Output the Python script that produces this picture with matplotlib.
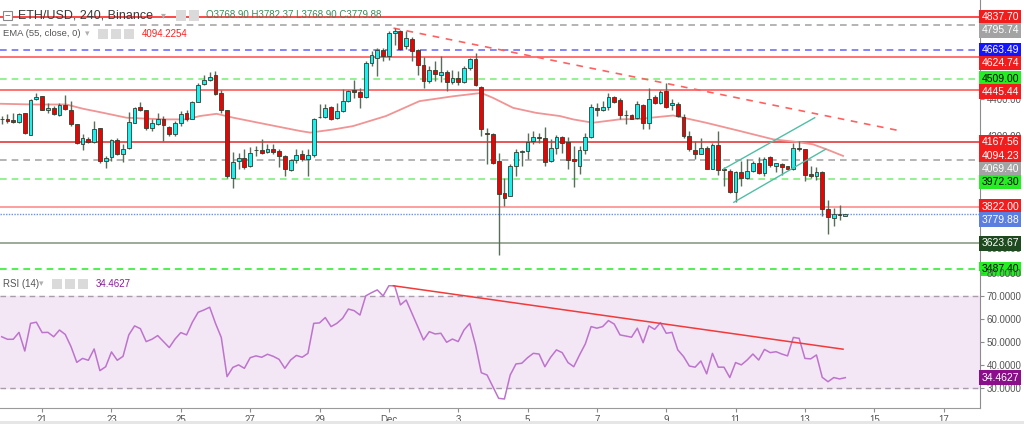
import numpy as np
import pandas as pd
import matplotlib
matplotlib.use("Agg")
import matplotlib.pyplot as plt
from matplotlib.patches import Rectangle

plt.rcParams['font.family'] = ['Liberation Sans', 'DejaVu Sans']

# ETH/USD 4h candles, Binance, from 2021-11-19 20:00
start = '2021-11-19 20:00'
opens = [4292, 4293, 4285, 4277, 4322, 4206, 4400, 4415, 4342, 4349,
         4313, 4366, 4343, 4263, 4156, 4187, 4169, 4242, 4064, 4090,
         4178, 4106, 4135, 4272, 4354, 4338, 4245, 4267, 4293, 4249,
         4210, 4272, 4322, 4293, 4384, 4482, 4500, 4527, 4432, 4338,
         3978, 4069, 4082, 4041, 4124, 4124, 4113, 4131, 4121, 4094,
         4019, 4071, 4103, 4076, 4098, 4302, 4304, 4356, 4299, 4334,
         4388, 4447, 4436, 4411, 4593, 4619, 4664, 4632, 4756, 4765,
         4682, 4722, 4660, 4584, 4495, 4553, 4530, 4543, 4489, 4512,
         4491, 4566, 4614, 4464, 4219, 4210, 4064, 3895, 3880, 4041,
         4117, 4121, 4172, 4197, 4192, 4067, 4137, 4197, 4169, 4076,
         4041, 4126, 4195, 4352, 4343, 4356, 4411, 4393, 4313, 4311,
         4299, 4366, 4272, 4409, 4379, 4441, 4365, 4375, 4302, 4201,
         4124, 4106, 4138, 4026, 4151, 4023, 4014, 3898, 4008, 3973,
         4014, 4058, 4001, 4089, 4041, 4053, 4039, 4023, 4138, 4130,
         3996, 3984, 4005, 3809, 3761, 3782, 3768.90]
highs = [4308, 4317, 4326, 4326, 4326, 4397, 4432, 4418, 4379, 4361,
         4379, 4423, 4388, 4265, 4210, 4197, 4281, 4245, 4094, 4183,
         4188, 4156, 4329, 4356, 4382, 4343, 4293, 4322, 4308, 4254,
         4281, 4334, 4343, 4388, 4486, 4527, 4543, 4548, 4447, 4343,
         4115, 4112, 4130, 4144, 4147, 4183, 4156, 4156, 4130, 4098,
         4076, 4133, 4126, 4130, 4299, 4370, 4370, 4361, 4379, 4454,
         4450, 4504, 4459, 4601, 4655, 4673, 4673, 4762, 4780, 4771,
         4762, 4735, 4667, 4625, 4575, 4601, 4632, 4557, 4553, 4548,
         4575, 4619, 4646, 4468, 4245, 4219, 4112, 3978, 4049, 4133,
         4124, 4219, 4228, 4219, 4251, 4183, 4204, 4201, 4197, 4147,
         4147, 4215, 4370, 4379, 4388, 4429, 4418, 4406, 4343, 4317,
         4388, 4370, 4459, 4423, 4447, 4486, 4397, 4382, 4317, 4228,
         4174, 4192, 4147, 4165, 4228, 4032, 4023, 4014, 4067, 4076,
         4067, 4090, 4090, 4094, 4058, 4058, 4041, 4162, 4174, 4133,
         4041, 4037, 4014, 3859, 3813, 3830, 3782.37]
lows = [4263, 4272, 4272, 4272, 4210, 4204, 4393, 4338, 4325, 4313,
        4308, 4343, 4254, 4156, 4126, 4165, 4165, 4055, 4028, 4067,
        4099, 4062, 4130, 4268, 4334, 4233, 4227, 4261, 4174, 4201,
        4201, 4254, 4281, 4290, 4382, 4472, 4495, 4423, 4325, 3978,
        3920, 4023, 4026, 4032, 4094, 4103, 4108, 4103, 4032, 3984,
        4014, 4058, 4067, 3987, 4090, 4297, 4299, 4286, 4293, 4329,
        4382, 4406, 4352, 4406, 4575, 4525, 4601, 4610, 4690, 4660,
        4667, 4601, 4530, 4459, 4486, 4495, 4489, 4441, 4482, 4477,
        4486, 4557, 4468, 4201, 4049, 4049, 3560, 3827, 3877, 3987,
        4041, 4076, 4156, 4165, 4041, 4062, 4103, 4112, 4023, 3925,
        3996, 4103, 4192, 4308, 4334, 4343, 4379, 4290, 4263, 4290,
        4293, 4236, 4236, 4370, 4370, 4352, 4343, 4304, 4192, 4121,
        4076, 4103, 4023, 4023, 3991, 3934, 3895, 3848, 3934, 3969,
        4005, 3996, 3987, 4037, 4008, 3991, 4019, 4019, 4121, 3960,
        3978, 3966, 3773, 3675, 3720, 3752, 3768.90]
closes = [4294, 4279, 4277, 4317, 4215, 4393, 4409, 4340, 4349, 4320,
          4365, 4347, 4267, 4165, 4188, 4171, 4236, 4064, 4085, 4178,
          4103, 4133, 4276, 4352, 4340, 4242, 4272, 4293, 4258, 4210,
          4272, 4317, 4293, 4384, 4477, 4500, 4518, 4427, 4340, 3984,
          4062, 4082, 4032, 4112, 4124, 4110, 4131, 4113, 4094, 4023,
          4071, 4098, 4076, 4098, 4293, 4302, 4352, 4290, 4334, 4388,
          4441, 4436, 4409, 4593, 4637, 4660, 4632, 4756, 4762, 4667,
          4726, 4655, 4584, 4495, 4553, 4534, 4544, 4489, 4512, 4491,
          4566, 4614, 4477, 4236, 4213, 4055, 3889, 3866, 4041, 4117,
          4117, 4169, 4197, 4188, 4062, 4137, 4197, 4165, 4073, 4067,
          4124, 4195, 4356, 4343, 4358, 4411, 4384, 4311, 4313, 4293,
          4370, 4272, 4402, 4379, 4436, 4358, 4379, 4308, 4201, 4130,
          4106, 4138, 4026, 4155, 4019, 4017, 3902, 4008, 3978, 4014,
          4058, 4001, 4076, 4044, 4055, 4037, 4023, 4138, 4130, 3991,
          3984, 4010, 3809, 3765, 3782, 3777, 3779.88]

rsi = [52.2, 51.1, 51.1, 54.1, 46.0, 58.0, 58.5, 54.0, 54.1, 52.2,
       55.1, 53.2, 47.9, 41.1, 42.8, 42.0, 46.9, 37.5, 39.2, 45.6,
       42.0, 43.7, 53.0, 56.9, 55.7, 50.1, 51.1, 52.7, 50.1, 47.5,
       51.2, 54.0, 53.0, 58.5, 62.8, 63.8, 65.0, 58.0, 51.9, 34.9,
       38.9, 40.0, 38.5, 43.1, 43.9, 43.3, 44.6, 43.7, 42.4, 38.5,
       42.1, 44.1, 43.3, 45.0, 58.0, 58.2, 60.5, 56.6, 58.0, 60.2,
       64.2, 63.5, 61.6, 69.9, 71.3, 72.5, 69.9, 74.3, 74.3, 66.0,
       68.1, 62.4, 56.6, 50.8, 54.4, 53.4, 53.7, 49.8, 51.2, 50.1,
       55.1, 58.0, 48.6, 36.6, 35.6, 30.6, 25.5, 25.2, 35.6, 40.4,
       40.7, 43.1, 45.0, 44.7, 39.2, 43.3, 46.5, 45.3, 41.0, 39.2,
       44.3, 49.1, 56.6, 55.9, 56.6, 59.2, 57.7, 53.0, 52.5, 52.0,
       55.9, 49.6, 56.9, 55.4, 58.3, 53.7, 54.1, 46.5, 43.6, 39.5,
       39.0, 41.7, 36.1, 45.0, 39.0, 39.0, 34.5, 41.0, 40.0, 42.1,
       44.7, 42.1, 46.7, 45.3, 45.7, 44.7, 43.9, 51.9, 51.5, 42.8,
       42.6, 44.3, 34.6, 32.7, 34.5, 33.9, 34.4627]

# EMA(55) read at sample bars
ema_bar = [-0.3, 5.5, 11.2, 14.1, 17, 21.6, 25.7, 28.5, 32, 34.3, 37.2, 40.1,
           45.9, 51.6, 53.4, 57.4, 60.8, 66.5, 72.3, 78.1, 83, 85, 88.5, 92.5,
           96.6, 98.9, 102.3, 106.9, 110.4, 116.2, 121.9, 127.7, 133.5, 137.5,
           140.4, 142.7, 145.6]
ema_val = [4374, 4370, 4370, 4347, 4329, 4299, 4293, 4290, 4290, 4308, 4320, 4299,
           4263, 4228, 4219, 4236, 4254, 4308, 4388, 4414, 4432, 4406, 4352, 4325,
           4308, 4290, 4272, 4290, 4293, 4311, 4272, 4228, 4183, 4169,
           4156, 4130, 4094]
ema_last = 4094.2254

# drawn trend lines (bar, value)
trend_main = [(67.8, 4780), (155.1, 4231)]
channel_up = [(124.9, 4023), (140.7, 4299)]
channel_lo = [(126.7, 3845), (142.6, 4130)]
trend_rsi = [(67.8, 74.3), (145.6, 46.8)]

# horizontal levels: price, line colour, style, label bg, label fg
levels = [
    (4837.70, '#ff2a2a', '-', '#f21c1c', 'white'),
    (4795.74, '#a8a8a8', '--', '#a3a3a3', 'white'),
    (4663.49, '#6f6fff', '--', '#1414ff', 'white'),
    (4624.74, '#ff5a5a', '-', '#f21c1c', 'white'),
    (4509.00, '#7ff07f', '--', '#22ee22', 'black'),
    (4445.44, '#ff5a5a', '-', '#f21c1c', 'white'),
    (4167.56, '#e03a3a', '-', '#f21c1c', 'white'),
    (4069.40, '#a8a8a8', '--', '#a3a3a3', 'white'),
    (3972.30, '#7ff07f', '--', '#22ee22', 'black'),
    (3822.00, '#ff8e8e', '-', '#f21c1c', 'white'),
    (3623.67, '#8e9c88', '-', '#1f4a1f', 'white'),
    (3487.40, '#33ee33', '--', '#22ee22', 'black'),
]
last_close = 3779.88

price_ticks = [3600, 4200, 4400]
rsi_ticks = [30, 40, 50, 60, 70, 80]
tick_dates = ['2021-11-21', '2021-11-23', '2021-11-25', '2021-11-27', '2021-11-29',
              '2021-12-01', '2021-12-03', '2021-12-05', '2021-12-07', '2021-12-09',
              '2021-12-11', '2021-12-13', '2021-12-15', '2021-12-17']
tick_labels = ['21', '23', '25', '27', '29', 'Dec', '3', '5', '7', '9',
               '11', '13', '15', '17']

W, H = 1024, 424
fig = plt.figure(figsize=(W / 100, H / 100), dpi=100)
ax = fig.add_axes([0, 153 / H, 980 / W, 271 / H])
ax2 = fig.add_axes([0, 16 / H, 980 / W, 137 / H], sharex=ax)

o = np.array(opens, float)
h = np.array(highs, float)
l = np.array(lows, float)
c = np.array(closes, float)
x = np.arange(len(c))
times = pd.date_range(start, periods=len(c), freq='4h')

ymin, ymax = 3476, 4931
ax.set_xlim(-0.29, 169.3)
ax.set_ylim(ymin, ymax)

for price, col, ls, _, _ in levels:
    if ls == '--':
        ax.axhline(price, color=col, lw=1.2, dashes=(4, 3), zorder=1)
    else:
        ax.axhline(price, color=col, lw=1.2, zorder=1)
ax.axhline(last_close, color='#7390e0', lw=1, ls=(0, (1, 1)), zorder=1)

ax.plot(ema_bar, ema_val, color='#f09494', lw=1.3, zorder=2)

up = c >= o
ax.vlines(x, l, h, color='#5a6c5a', lw=1, zorder=3)
ax.bar(x, np.maximum(np.abs(c - o), 2), bottom=np.minimum(o, c), width=0.66,
       color=np.where(up, '#19f0f0', '#f00000'), edgecolor='#2f3f2f',
       linewidth=0.6, zorder=4)

tx, ty = zip(*trend_main)
ax.plot(tx, ty, color='#ff6060', lw=1.2, dashes=(4, 4), zorder=2)
for seg in (channel_up, channel_lo):
    sx, sy = zip(*seg)
    ax.plot(sx, sy, color='#4fbfa5', lw=1, zorder=5)

# axes styling
for a in (ax, ax2):
    a.spines['top'].set_visible(False)
    a.spines['left'].set_visible(False)
    a.spines['right'].set_color('#8c8c8c')
    a.spines['bottom'].set_color('#9a9a9a')
    a.yaxis.tick_right()
    a.tick_params(axis='y', direction='out', length=3, width=0.8, colors='#8c8c8c',
                  labelcolor='#555555', labelsize=7, pad=2)
ax.set_yticks(price_ticks)
ax.set_yticklabels(['%.2f' % v for v in price_ticks])
ax.tick_params(axis='x', bottom=False, labelbottom=False)

# price labels on the right axis, pushed apart like the platform does
lab = [(p, bg, fg) for p, _, _, bg, fg in levels]
lab.append((round(ema_last, 2), '#f21c1c', 'white'))
lab.append((last_close, '#5b7fe0', 'white'))
lab.sort(key=lambda t: -t[0])
scale = 271 / (ymax - ymin)
prev = -100
for p, bg, fg in lab:
    ypx = (ymax - p) * scale
    if ypx < prev + 13:
        ypx = prev + 13
    prev = ypx
    ax.annotate('%.2f' % p, xy=(1, ymax - ypx / scale), xycoords=('axes fraction', 'data'),
                xytext=(1.0, 0), textcoords='offset points', ha='left', va='center',
                fontsize=7.5, color=fg, annotation_clip=False, zorder=10,
                bbox=dict(boxstyle='square,pad=0.22', fc=bg, ec='none'))

# RSI panel
ax2.set_ylim(21.3, 80.7)
ax2.axhspan(30, 70, color='#f3e6f5', zorder=0)
for v in (70, 30):
    ax2.axhline(v, color='#a99ca9', lw=1, dashes=(4, 3), zorder=1)
ax2.plot(x, rsi, color='#bd74cc', lw=1.1, zorder=3)
rx, ry = zip(*trend_rsi)
ax2.plot(rx, ry, color='#f23a3a', lw=1.1, zorder=4)
ax2.set_yticks(rsi_ticks)
ax2.set_yticklabels(['%.4f' % v for v in rsi_ticks])
ax2.annotate('%.4f' % rsi[-1], xy=(1, rsi[-1]), xycoords=('axes fraction', 'data'),
             xytext=(1.0, 0), textcoords='offset points', ha='left', va='center',
             fontsize=7.5, color='white', annotation_clip=False, zorder=10,
             bbox=dict(boxstyle='square,pad=0.22', fc='#8b0f8b', ec='none'))

tick_pos = (pd.to_datetime(tick_dates) - times[0]) / pd.Timedelta('4h')
ax2.set_xticks(tick_pos)
ax2.set_xticklabels(tick_labels)
ax2.tick_params(axis='x', direction='out', length=3, width=0.8, colors='#8c8c8c',
                labelcolor='#555555', labelsize=7, pad=2)


# legend rows
def fx(px):
    return px / W


def fy(py):
    return 1 - py / H


def icon(x0, y0, size=10):
    fig.add_artist(Rectangle((fx(x0), fy(y0 + size)), size / W, size / H,
                             transform=fig.transFigure, fc='#dadada', ec='none'))


fig.add_artist(Rectangle((fx(3), fy(20)), 9 / W, 9 / H, transform=fig.transFigure,
                         fc='white', ec='#888888', lw=0.8))
fig.text(fx(4.5), fy(15.5), '\u2212', fontsize=7, color='#666666', va='center')
fig.text(fx(18), fy(15.5), 'ETH/USD, 240, Binance', fontsize=9, color='#3a3a3a', va='center')
fig.text(fx(161), fy(15.5), '\u25be', fontsize=7, color='#b0b0b0', va='center',
         family='DejaVu Sans')
icon(176, 10.5)
icon(189, 10.5)
fig.text(fx(206), fy(15.5), 'O%.2f H%.2f L%.2f C%.2f' % (o[-1], h[-1], l[-1], c[-1]),
         fontsize=7, color='#3b8a5a', va='center')

fig.text(fx(3), fy(34), 'EMA (55, close, 0)', fontsize=6.8, color='#555555', va='center')
fig.text(fx(85), fy(34), '\u25be', fontsize=6.5, color='#b0b0b0', va='center',
         family='DejaVu Sans')
icon(98, 29)
icon(111, 29)
icon(124, 29)
fig.text(fx(142), fy(34), '%.4f' % ema_last, fontsize=7, color='#ff2020', va='center')

fig.text(fx(3), fy(284), 'RSI (14)', fontsize=7, color='#555555', va='center')
fig.text(fx(39), fy(284), '\u25be', fontsize=6.5, color='#b0b0b0', va='center',
         family='DejaVu Sans')
icon(52, 279)
icon(65, 279)
icon(78, 279)
fig.text(fx(96), fy(284), '%.4f' % rsi[-1], fontsize=7, color='#8b1a9b', va='center')

fig.add_artist(Rectangle((0, 0), 1, 3 / H, transform=fig.transFigure,
                         fc='#e6e6e6', ec='none'))

fig.savefig('out.png', dpi=100)
